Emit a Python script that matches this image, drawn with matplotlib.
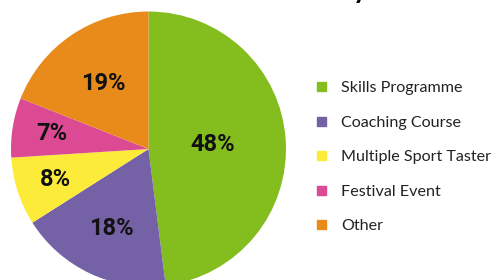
import matplotlib
matplotlib.use('Agg')
import matplotlib.pyplot as plt
from matplotlib.patches import Rectangle
import numpy as np

categories = ['Skills Programme', 'Coaching Course', 'Multiple Sport Taster', 'Festival Event', 'Other']
shares = [48, 18, 8, 7, 19]
colours = ['#84bd1e', '#7562a6', '#fdeb3a', '#dc4a93', '#e88b1a']
# how far out each percentage sits inside its slice
label_r = [0.47, 0.64, 0.715, 0.71, 0.58]

W, H = 501, 280
fig = plt.figure(figsize=(W / 100, H / 100), dpi=100)

# pie centre and radius in pixels (top-left origin)
cx, cy, r = 148.5, 149, 137.5
ax = fig.add_axes([(cx - r) / W, (H - cy - r) / H, 2 * r / W, 2 * r / H])
wedges, _ = ax.pie(shares, colors=colours, startangle=90, counterclock=False,
                   wedgeprops=dict(linewidth=0))
ax.set_xlim(-1, 1)
ax.set_ylim(-1, 1)
ax.set_aspect('equal')
ax.axis('off')

for w, val, lr in zip(wedges, shares, label_r):
    mid = np.deg2rad((w.theta1 + w.theta2) / 2)
    ax.text(lr * np.cos(mid), lr * np.sin(mid), '%d%%' % val,
            ha='center', va='center', fontsize=17, fontweight='bold',
            family='Roboto', color='#111111')

# legend
for i, (lab, col) in enumerate(zip(categories, colours)):
    y = 86.5 + i * 34.6
    fig.patches.append(Rectangle((317 / W, (H - y - 4.5) / H), 9 / W, 9 / H,
                                 transform=fig.transFigure, color=col))
    fig.text(341 / W, (H - y) / H, lab, ha='left', va='center_baseline',
             fontsize=11.6, family='Lato', color='#222222')

# title, cut off at the top of the picture
fig.text(360 / W, 1 + 2 / H, 'y', ha='center', va='baseline',
         fontsize=20, fontweight='bold', family='Lato', color='black')

fig.savefig('out.png', dpi=100)
